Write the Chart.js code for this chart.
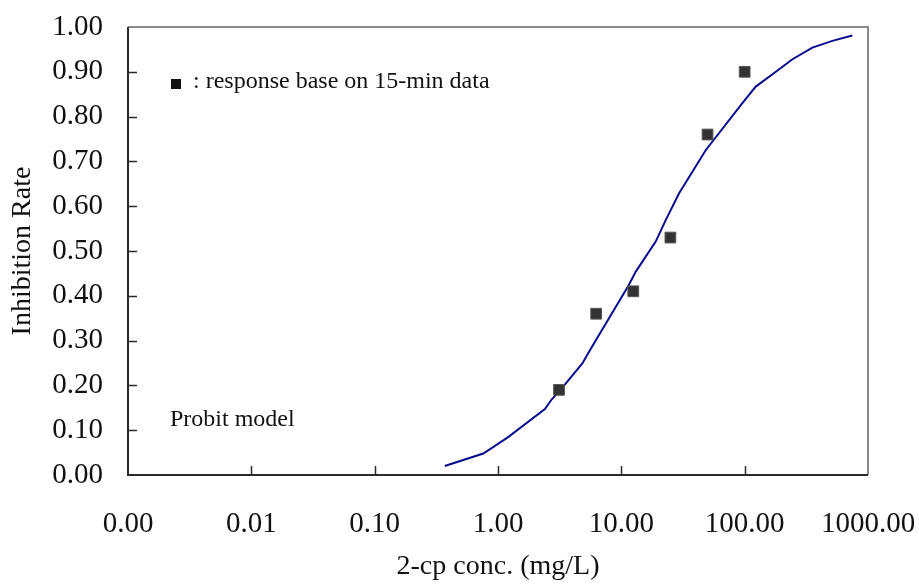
<!DOCTYPE html>
<html>
<head>
<meta charset="utf-8">
<title>Probit model</title>
<script src="https://cdn.jsdelivr.net/npm/chart.js@4"></script>
<style>
  html, body { margin: 0; padding: 0; background: #fff; }
  #wrap { width: 919px; height: 584px; }
</style>
</head>
<body>
<div id="wrap"><canvas id="probitChart" width="919" height="584"></canvas></div>
<script>
// measured response (15-min data)
const concData = [3.125, 6.25, 12.5, 25, 50, 100];
const rateData = [0.19, 0.36, 0.41, 0.53, 0.76, 0.90];

// fitted probit curve
const curveConc = [0.37, 0.76, 1.2, 2.4, 2.73, 3.1, 4.83, 5.47, 11.5, 13.1, 19.0, 22.9, 29.4, 48.3, 95.8, 123, 179, 244, 354, 514, 747];
const curveRate = [0.02, 0.048, 0.084, 0.147, 0.169, 0.185, 0.249, 0.275, 0.424, 0.454, 0.521, 0.569, 0.629, 0.725, 0.830, 0.867, 0.900, 0.928, 0.954, 0.969, 0.981];

// axis ticks
const xTickValues = [0.001, 0.01, 0.1, 1, 10, 100, 1000];
const xTickLabels = ['0.00', '0.01', '0.10', '1.00', '10.00', '100.00', '1000.00'];
const yTickValues = [0, 0.1, 0.2, 0.3, 0.4, 0.5, 0.6, 0.7, 0.8, 0.9, 1.0];
const yTickLabels = ['0.00', '0.10', '0.20', '0.30', '0.40', '0.50', '0.60', '0.70', '0.80', '0.90', '1.00'];

const serif = "'Liberation Serif', 'Times New Roman', serif";

// frame, inward tick marks and text notes
const framePlugin = {
  id: 'frame',
  afterDraw(chart) {
    const { ctx, chartArea: a, scales } = chart;
    ctx.save();
    // top + right border
    ctx.strokeStyle = '#8a8a8a';
    ctx.lineWidth = 2;
    ctx.beginPath();
    ctx.moveTo(a.left, a.top);
    ctx.lineTo(a.right, a.top);
    ctx.lineTo(a.right, a.bottom);
    ctx.stroke();
    // left + bottom axis
    ctx.strokeStyle = '#2b2b2b';
    ctx.beginPath();
    ctx.moveTo(a.left, a.top);
    ctx.lineTo(a.left, a.bottom);
    ctx.lineTo(a.right, a.bottom);
    ctx.stroke();
    // tick marks pointing in
    ctx.lineWidth = 1.5;
    yTickValues.slice(1, -1).forEach(v => {
      const y = Math.round(scales.y.getPixelForValue(v)) + 0.5;
      ctx.beginPath();
      ctx.moveTo(a.left, y);
      ctx.lineTo(a.left + 9, y);
      ctx.stroke();
    });
    xTickValues.slice(1, -1).forEach(v => {
      const x = Math.round(scales.x.getPixelForValue(v)) + 0.5;
      ctx.beginPath();
      ctx.moveTo(x, a.bottom);
      ctx.lineTo(x, a.bottom - 9);
      ctx.stroke();
    });
    // notes
    ctx.fillStyle = '#111';
    ctx.fillRect(171, 79, 10, 10);
    ctx.font = '24px ' + serif;
    ctx.textBaseline = 'alphabetic';
    ctx.textAlign = 'left';
    ctx.fillText(': response base on 15-min data', 193, 88);
    ctx.fillText('Probit model', 170, 426);
    ctx.restore();
  }
};

new Chart(document.getElementById('probitChart'), {
  type: 'scatter',
  data: {
    datasets: [
      {
        label: 'response base on 15-min data',
        data: concData.map((c, i) => ({ x: c, y: rateData[i] })),
        pointStyle: 'rect',
        pointRadius: 7.6,
        backgroundColor: '#333333',
        borderColor: '#555555',
        borderWidth: 1,
        order: 1
      },
      {
        label: 'Probit model',
        type: 'line',
        data: curveConc.map((c, i) => ({ x: c, y: curveRate[i] })),
        borderColor: '#0a0a8c',
        borderWidth: 2,
        pointRadius: 0,
        tension: 0,
        fill: false,
        order: 2
      }
    ]
  },
  options: {
    responsive: false,
    animation: false,
    layout: { padding: { left: 0, right: 51, top: 27, bottom: 0 } },
    plugins: {
      legend: { display: false },
      tooltip: { enabled: false }
    },
    scales: {
      x: {
        type: 'logarithmic',
        min: 0.001,
        max: 1000,
        afterBuildTicks: s => { s.ticks = xTickValues.map(v => ({ value: v })); },
        afterFit: s => {
          s.height = 109;
          s.paddingLeft = 0;
          s.paddingRight = 0;
        },
        grid: { display: false },
        border: { display: false },
        ticks: {
          padding: 24,
          color: '#111',
          font: { family: serif, size: 29 },
          maxRotation: 0,
          autoSkip: false,
          callback: (v) => xTickLabels[xTickValues.indexOf(v)]
        },
        title: {
          display: true,
          text: '2-cp conc. (mg/L)',
          color: '#111',
          font: { family: serif, size: 28 },
          padding: { top: 0, bottom: 1 }
        }
      },
      y: {
        min: 0,
        max: 1,
        afterBuildTicks: s => { s.ticks = yTickValues.map(v => ({ value: v })); },
        afterFit: s => {
          s.width = 128;
          s.paddingTop = 0;
          s.paddingBottom = 0;
        },
        grid: { display: false },
        border: { display: false },
        ticks: {
          padding: 17,
          color: '#111',
          font: { family: serif, size: 29 },
          autoSkip: false,
          callback: (v) => yTickLabels[yTickValues.findIndex(t => Math.abs(t - v) < 1e-9)]
        },
        title: {
          display: true,
          text: 'Inhibition Rate',
          color: '#111',
          font: { family: serif, size: 28 },
          padding: { top: 6, bottom: 0 }
        }
      }
    }
  },
  plugins: [framePlugin]
});
</script>
</body>
</html>
